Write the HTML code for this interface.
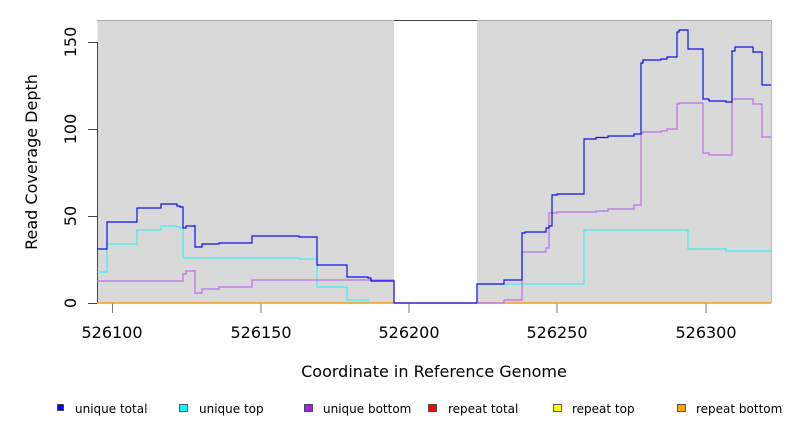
<!DOCTYPE html>
<html><head><meta charset="utf-8"><style>
body{margin:0;background:#fff;}
svg{display:block;font-family:"DejaVu Sans","Liberation Sans",sans-serif;}
</style></head><body>
<svg width="792" height="432" viewBox="0 0 792 432" xmlns="http://www.w3.org/2000/svg">
<rect x="97.5" y="20.5" width="674" height="283" fill="#d9d9d9"/>
<rect x="394" y="21" width="83" height="282" fill="#fff"/>
<line x1="97" y1="20.5" x2="771.5" y2="20.5" stroke="#aaa"/>
<line x1="394" y1="20.5" x2="477" y2="20.5" stroke="#444"/>
<line x1="771.5" y1="20" x2="771.5" y2="303" stroke="#bbb"/>
<g stroke="#444" stroke-width="1">
<line x1="97.5" y1="42" x2="97.5" y2="303"/>
<line x1="88" y1="42.5" x2="97" y2="42.5"/>
<line x1="88" y1="129.5" x2="97" y2="129.5"/>
<line x1="88" y1="216.5" x2="97" y2="216.5"/>
<line x1="88" y1="303.5" x2="97" y2="303.5"/>
</g>
<g stroke="#777" stroke-width="1">
<line x1="112.5" y1="303" x2="112.5" y2="313"/>
<line x1="261" y1="303" x2="261" y2="313"/>
<line x1="409" y1="303" x2="409" y2="313"/>
<line x1="557" y1="303" x2="557" y2="313"/>
<line x1="706" y1="303" x2="706" y2="313"/>
</g>
<g font-size="16" fill="#000" text-anchor="middle">
<text transform="translate(76,42) rotate(-90)">150</text>
<text transform="translate(76,129) rotate(-90)">100</text>
<text transform="translate(76,216) rotate(-90)">50</text>
<text transform="translate(76,303) rotate(-90)">0</text>
<text transform="translate(37,162) rotate(-90)">Read Coverage Depth</text>
<text x="112" y="338">526100</text>
<text x="261" y="338">526150</text>
<text x="409" y="338">526200</text>
<text x="557" y="338">526250</text>
<text x="706" y="338">526300</text>
<text x="434" y="377">Coordinate in Reference Genome</text>
</g>
<line x1="97" y1="303" x2="771" y2="303" stroke="#f39a1e" stroke-width="1.5"/>
<g fill="none" stroke-width="1.2">
<polyline stroke="#40f0f0" points="97,272 107,272 107,244 137,244 137,230 161,230 161,226 177,226 177,227 180,227 180,228 183,228 183,258 299,258 299,259 317,259 317,287 347,287 347,300 368,300 368,303"/>
<polyline stroke="#40f0f0" points="477,303 477,284 584,284 584,230 688,230 688,249 726,249 726,251 771,251"/>
<polyline stroke="#b870e8" points="97,281 183,281 183,274 186,274 186,271 195,271 195,270 195,293 202,293 202,289 219,289 219,287 252,287 252,280 394,280 394,303"/>
<polyline stroke="#b870e8" points="477,303 504,303 504,300 522,300 522,252 546,252 546,248 549,248 549,213 557,213 557,212 596,212 596,211 608,211 608,209 634,209 634,205 641,205 641,133 643,133 643,132 661,132 661,131 667,131 667,129 677,129 677,104 679,104 679,103 703,103 703,153 709,153 709,155 732,155 732,99 753,99 753,104 762,104 762,137 771,137"/>
<polyline stroke="#1010f0" points="97,249 107,249 107,222 137,222 137,208 161,208 161,204 177,204 177,206 180,206 180,207 183,207 183,228 186,228 186,226 195,226 195,225 195,247 202,247 202,244 219,244 219,243 252,243 252,236 299,236 299,237 317,237 317,265 347,265 347,277 368,277 368,278 371,278 371,281 394,281 394,303 477,303"/>
<polyline stroke="#1010f0" points="477,303 477,284 504,284 504,280 522,280 522,233 525,233 525,232 546,232 546,228 549,228 549,226 552,226 552,195 557,195 557,194 584,194 584,139 596,139 596,137.5 608,137.5 608,136 634,136 634,134 641,134 641,63 643,63 643,60 661,60 661,59 667,59 667,57 677,57 677,32 679,32 679,30 688,30 688,49 703,49 703,99 709,99 709,101 726,101 726,102 732,102 732,51 735,51 735,47 753,47 753,52 762,52 762,85 771,85"/>
</g>
<g stroke="#333" stroke-width="0.8">
<rect x="57.5" y="404.5" width="6" height="6" fill="#0000ff"/>
<rect x="179.5" y="404.5" width="8" height="7" fill="#00ffff"/>
<rect x="304.5" y="404.5" width="8" height="7" fill="#a020f0"/>
<rect x="428.5" y="404.5" width="8" height="7" fill="#ff0000"/>
<rect x="553.5" y="404.5" width="8" height="7" fill="#ffff00"/>
<rect x="677.5" y="404.5" width="8" height="7" fill="#ffa500"/>
</g>
<g font-size="12" fill="#000">
<text x="75" y="413">unique total</text>
<text x="199" y="413">unique top</text>
<text x="323" y="413">unique bottom</text>
<text x="448" y="413">repeat total</text>
<text x="572" y="413">repeat top</text>
<text x="696" y="413">repeat bottom</text>
</g>
</svg>
</body></html>
